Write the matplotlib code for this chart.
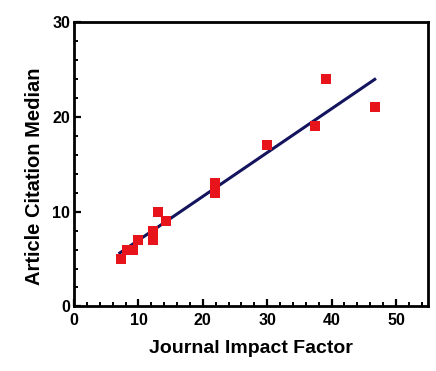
import numpy as np
import matplotlib
matplotlib.use("Agg")
import matplotlib.pyplot as plt
from matplotlib.ticker import MultipleLocator

# values
impact_factor = [7.3, 8.2, 9.2, 9.9, 12.2, 12.2, 13.1, 14.3, 21.9, 21.9, 30.0, 37.4, 39.1, 46.7]
citation_median = [5, 6, 6, 7, 8, 7, 10, 9, 13, 12, 17, 19, 24, 21]
x_ticks = [0, 10, 20, 30, 40, 50]
y_ticks = [0, 10, 20, 30]

plt.rcParams["font.family"] = ["Liberation Sans", "DejaVu Sans"]
plt.rcParams["font.weight"] = "bold"

fig = plt.figure(figsize=(4.36, 3.71), dpi=100)
ax = fig.add_axes([0.170, 0.174, 0.812, 0.767])

# least-squares fit drawn across the data range
x = np.array(impact_factor)
y = np.array(citation_median)
slope, intercept = np.polyfit(x, y, 1)
xs = np.array([x.min() - 0.2, x.max()])
ax.plot(xs, slope * xs + intercept, color="#14145e", lw=2.2, zorder=2)

ax.plot(x, y, "s", color="#e8141b", markersize=7.5, markeredgewidth=0, zorder=3)

ax.set_xlim(0, 55)
ax.set_ylim(0, 30)
ax.set_xticks(x_ticks)
ax.set_yticks(y_ticks)
ax.xaxis.set_minor_locator(MultipleLocator(2))
ax.yaxis.set_minor_locator(MultipleLocator(2))
ax.tick_params(which="both", direction="in", top=False, right=False)
ax.tick_params(which="major", length=5, width=1.6, labelsize=11.5)
ax.tick_params(axis="x", which="major", pad=5)
ax.tick_params(axis="y", which="major", pad=3)
ax.tick_params(which="minor", length=3, width=1.4)
for lab in ax.get_xticklabels() + ax.get_yticklabels():
    lab.set_fontweight("bold")
for sp in ax.spines.values():
    sp.set_linewidth(2)

ax.set_xlabel("Journal Impact Factor", fontsize=14, fontweight="bold", labelpad=8)
ax.set_ylabel("Article Citation Median", fontsize=14.5, fontweight="bold", labelpad=6)
ax.yaxis.label.set_y(0.457)

fig.savefig("out.png", dpi=100)
